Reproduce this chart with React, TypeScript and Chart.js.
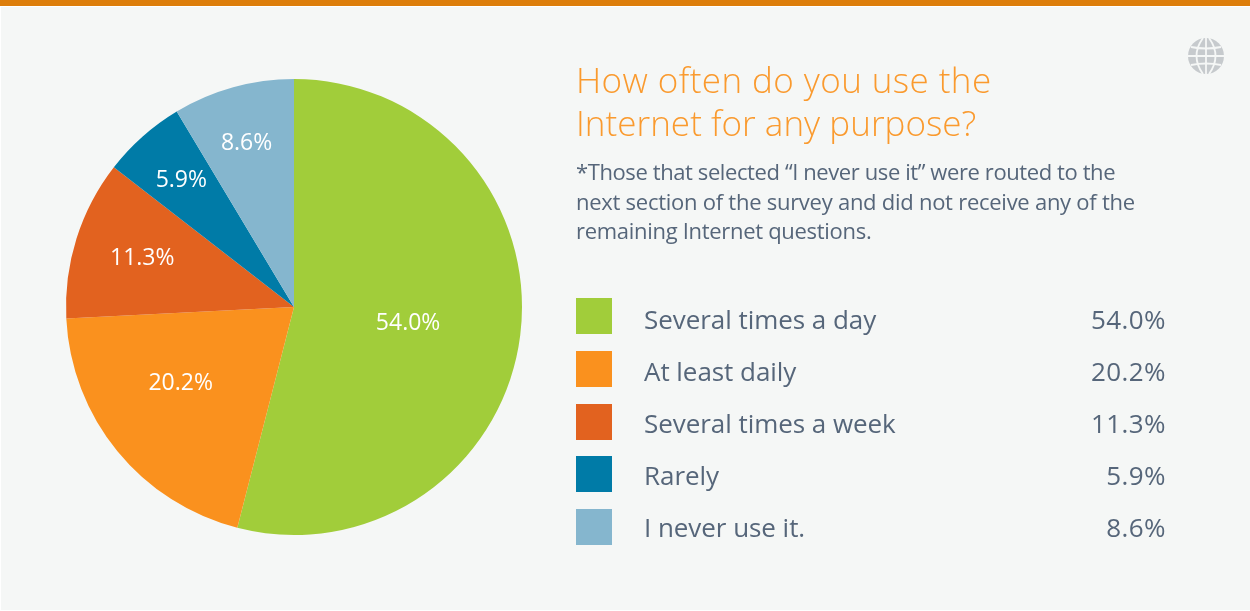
import React, { useEffect, useRef } from "react";
import { Chart, registerables, Plugin } from "chart.js";

Chart.register(...registerables);

const categories = ["Several times a day", "At least daily", "Several times a week", "Rarely", "I never use it."];
const shares = [54.0, 20.2, 11.3, 5.9, 8.6];
const sliceColors = ["#A1CD3A", "#FA911E", "#E2621F", "#007BA7", "#85B6CE"];
// Per-slice shift of the value label from the arc's centre point.
const labelShift: [number, number][] = [[1, 2], [-25, 4], [-43, -14], [-37, -41], [-17, -54]];

const TITLE_LINES = ["How often do you use the", "Internet for any purpose?"];
const TITLE_TRACKING = [0.42, 0.03];
const NOTE_LINES = [
  "*Those that selected \u201CI never use it\u201D were routed to the",
  "next section of the survey and did not receive any of the",
  "remaining Internet questions.",
];
const NOTE_TRACKING = [-0.4, -0.26, -0.3];

const SANS = '"Open Sans", "Noto Sans", sans-serif';
const INK = "#56667A";

const sliceLabels: Plugin<"pie"> = {
  id: "sliceLabels",
  afterDatasetsDraw(chart) {
    const { ctx } = chart;
    ctx.save();
    ctx.fillStyle = "#FFFFFF";
    ctx.font = `23px ${SANS}`;
    ctx.textAlign = "center";
    ctx.textBaseline = "middle";
    chart.getDatasetMeta(0).data.forEach((arc, i) => {
      const c = arc.getCenterPoint();
      ctx.fillText(`${shares[i].toFixed(1)}%`, c.x + labelShift[i][0], c.y + labelShift[i][1]);
    });
    ctx.restore();
  },
};

function Globe() {
  return (
    <svg width={36} height={36} viewBox="0 0 36 36" style={{ position: "absolute", left: 1188, top: 38 }}>
      <circle cx={18} cy={18} r={18} fill="#C6CACD" />
      <g fill="none" stroke="#F5F7F6" strokeWidth={1.8}>
        <line x1={18} y1={0} x2={18} y2={36} />
        <line x1={0} y1={18} x2={36} y2={18} />
        <path d="M3 9 Q18 12 33 9" />
        <path d="M3 27 Q18 24 33 27" />
        <path d="M15 0 Q2 18 15 36" />
        <path d="M21 0 Q34 18 21 36" />
      </g>
    </svg>
  );
}

export default function App() {
  const ref = useRef<HTMLCanvasElement>(null);

  useEffect(() => {
    document.body.style.margin = "0";
    const chart = new Chart(ref.current!, {
      type: "pie",
      data: {
        labels: categories,
        datasets: [{ data: shares, backgroundColor: sliceColors, borderWidth: 0 }],
      },
      options: {
        responsive: false,
        animation: false,
        layout: { padding: { left: 66, right: 728, top: 79, bottom: 76 } },
        plugins: { legend: { display: false }, tooltip: { enabled: false } },
      },
      plugins: [sliceLabels],
    });
    return () => chart.destroy();
  }, []);

  const abs = (left: number, top: number): React.CSSProperties => ({
    position: "absolute",
    left,
    top,
    whiteSpace: "nowrap",
    fontFamily: SANS,
    color: INK,
  });

  return (
    <div style={{ position: "relative", width: 1250, height: 611, background: "#FFFFFF", overflow: "hidden" }}>
      <div style={{ position: "absolute", left: 1, top: 7, width: 1249, height: 603, background: "#F5F7F6" }} />
      <div style={{ position: "absolute", left: 0, top: 0, width: 1250, height: 6, background: "#DD7E0B" }} />
      <canvas ref={ref} width={1250} height={611} style={{ position: "absolute", left: 0, top: 0 }} />
      <Globe />
      {TITLE_LINES.map((line, i) => (
        <div key={line} style={{ ...abs(576, 58 + i * 43), fontSize: 35, lineHeight: "44px", fontWeight: 300, color: "#FA9A2E", letterSpacing: TITLE_TRACKING[i] }}>
          {line}
        </div>
      ))}
      {NOTE_LINES.map((line, i) => (
        <div key={line} style={{ ...abs(576, 156 + i * 29.5), fontSize: 22, lineHeight: "30px", letterSpacing: NOTE_TRACKING[i] }}>
          {line}
        </div>
      ))}
      {categories.map((name, i) => (
        <React.Fragment key={name}>
          <div style={{ position: "absolute", left: 576, top: 298 + i * 52.75, width: 36, height: 36, background: sliceColors[i] }} />
          <div style={{ ...abs(644, 301 + i * 52), fontSize: 26, lineHeight: "36px", letterSpacing: -0.05 }}>{name}</div>
          <div style={{ ...abs(1000, 301 + i * 52), width: 166, textAlign: "right", fontSize: 26, lineHeight: "36px", letterSpacing: 0.4 }}>
            {shares[i].toFixed(1)}%
          </div>
        </React.Fragment>
      ))}
    </div>
  );
}
